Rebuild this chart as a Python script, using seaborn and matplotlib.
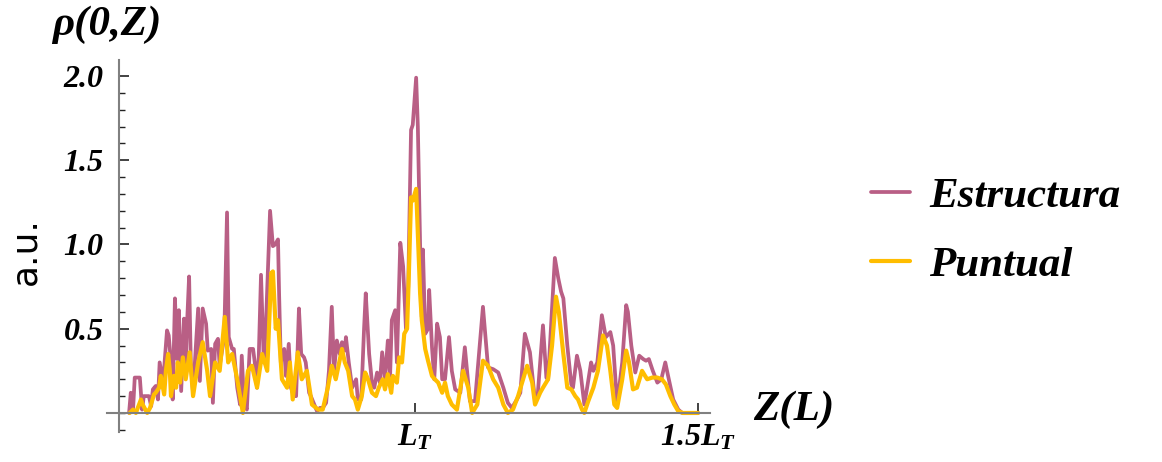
import matplotlib
matplotlib.use("Agg")
import matplotlib.pyplot as plt
import seaborn as sns
import pandas as pd
from matplotlib.ticker import FixedLocator, MultipleLocator

# Datos (Z en unidades de L_T, rho en u.a.)
z_estructura = [
    0.495, 0.498, 0.502, 0.505, 0.514, 0.518, 0.521, 0.530, 0.534, 0.537,
    0.542, 0.546, 0.549, 0.555, 0.562, 0.565, 0.569, 0.572, 0.576, 0.580,
    0.583, 0.587, 0.592, 0.595, 0.597, 0.601, 0.604, 0.608, 0.617, 0.620,
    0.625, 0.631, 0.634, 0.640, 0.643, 0.647, 0.652, 0.655, 0.663, 0.668,
    0.671, 0.677, 0.680, 0.686, 0.691, 0.694, 0.698, 0.703, 0.708, 0.714,
    0.717, 0.721, 0.724, 0.728, 0.733, 0.737, 0.744, 0.749, 0.753, 0.758,
    0.760, 0.763, 0.769, 0.772, 0.777, 0.781, 0.786, 0.790, 0.795, 0.799,
    0.804, 0.807, 0.813, 0.816, 0.822, 0.827, 0.832, 0.837, 0.843, 0.848,
    0.853, 0.857, 0.862, 0.867, 0.871, 0.876, 0.878, 0.883, 0.889, 0.896,
    0.899, 0.905, 0.910, 0.913, 0.919, 0.924, 0.928, 0.933, 0.938, 0.942,
    0.947, 0.952, 0.956, 0.959, 0.965, 0.968, 0.974, 0.979, 0.984, 0.988,
    0.993, 0.996, 1.002, 1.005, 1.009, 1.012, 1.014, 1.018, 1.023, 1.025,
    1.030, 1.034, 1.039, 1.044, 1.048, 1.053, 1.060, 1.065, 1.071, 1.080,
    1.088, 1.097, 1.106, 1.120, 1.129, 1.138, 1.147, 1.156, 1.164, 1.171,
    1.180, 1.186, 1.194, 1.203, 1.212, 1.217, 1.226, 1.232, 1.235, 1.247,
    1.253, 1.258, 1.262, 1.269, 1.276, 1.279, 1.286, 1.292, 1.299, 1.304,
    1.311, 1.315, 1.322, 1.330, 1.337, 1.345, 1.350, 1.357, 1.366, 1.373,
    1.376, 1.382, 1.389, 1.396, 1.403, 1.408, 1.413, 1.420, 1.428, 1.435,
    1.442, 1.447, 1.456, 1.465, 1.472, 1.500,
]
rho_estructura = [
    0.00, 0.12, 0.02, 0.21, 0.21, 0.02, 0.10, 0.10, 0.04, 0.14,
    0.16, 0.08, 0.30, 0.18, 0.49, 0.46, 0.30, 0.08, 0.68, 0.32,
    0.61, 0.13, 0.56, 0.30, 0.50, 0.81, 0.30, 0.12, 0.62, 0.19,
    0.62, 0.53, 0.37, 0.38, 0.06, 0.41, 0.44, 0.28, 0.45, 1.19,
    0.45, 0.38, 0.38, 0.15, 0.05, 0.34, 0.06, 0.02, 0.38, 0.38,
    0.30, 0.15, 0.33, 0.82, 0.30, 0.55, 1.20, 0.99, 1.00, 1.03,
    0.70, 0.30, 0.38, 0.22, 0.41, 0.15, 0.10, 0.10, 0.62, 0.35,
    0.33, 0.30, 0.12, 0.10, 0.05, 0.01, 0.03, 0.03, 0.06, 0.25,
    0.63, 0.25, 0.43, 0.35, 0.42, 0.37, 0.45, 0.30, 0.15, 0.20,
    0.08, 0.08, 0.50, 0.71, 0.35, 0.18, 0.15, 0.24, 0.18, 0.36,
    0.20, 0.43, 0.22, 0.55, 0.61, 0.30, 1.01, 0.87, 0.50, 0.75,
    1.68, 1.71, 1.99, 1.70, 1.00, 0.57, 0.97, 0.47, 0.50, 0.73,
    0.39, 0.20, 0.53, 0.45, 0.20, 0.20, 0.45, 0.25, 0.14, 0.12,
    0.39, 0.07, 0.07, 0.63, 0.27, 0.26, 0.24, 0.15, 0.06, 0.03,
    0.08, 0.12, 0.47, 0.36, 0.07, 0.12, 0.52, 0.21, 0.20, 0.92,
    0.80, 0.72, 0.68, 0.40, 0.17, 0.15, 0.34, 0.25, 0.05, 0.15,
    0.30, 0.25, 0.30, 0.58, 0.45, 0.48, 0.40, 0.05, 0.30, 0.64,
    0.60, 0.40, 0.24, 0.34, 0.32, 0.31, 0.32, 0.25, 0.18, 0.20,
    0.30, 0.22, 0.08, 0.02, 0.00, 0.00,
]

z_puntual = [
    0.496, 0.502, 0.507, 0.516, 0.519, 0.527, 0.532, 0.539, 0.542, 0.548,
    0.551, 0.557, 0.560, 0.564, 0.567, 0.569, 0.574, 0.578, 0.581, 0.585,
    0.590, 0.595, 0.602, 0.608, 0.617, 0.625, 0.633, 0.638, 0.647, 0.655,
    0.664, 0.670, 0.677, 0.686, 0.696, 0.705, 0.712, 0.721, 0.730, 0.739,
    0.746, 0.749, 0.754, 0.758, 0.765, 0.774, 0.779, 0.784, 0.793, 0.800,
    0.809, 0.818, 0.829, 0.837, 0.846, 0.853, 0.860, 0.866, 0.871, 0.876,
    0.882, 0.889, 0.894, 0.899, 0.906, 0.912, 0.917, 0.924, 0.931, 0.936,
    0.943, 0.947, 0.952, 0.958, 0.961, 0.968, 0.972, 0.977, 0.981, 0.986,
    0.989, 0.993, 0.996, 1.002, 1.005, 1.009, 1.012, 1.018, 1.023, 1.030,
    1.035, 1.041, 1.048, 1.053, 1.058, 1.065, 1.071, 1.074, 1.085, 1.094,
    1.101, 1.110, 1.120, 1.129, 1.138, 1.147, 1.156, 1.164, 1.173, 1.182,
    1.191, 1.198, 1.207, 1.212, 1.221, 1.226, 1.235, 1.242, 1.249, 1.254,
    1.262, 1.269, 1.276, 1.283, 1.288, 1.295, 1.299, 1.306, 1.315, 1.323,
    1.332, 1.339, 1.345, 1.352, 1.357, 1.366, 1.373, 1.378, 1.385, 1.392,
    1.401, 1.410, 1.419, 1.428, 1.436, 1.443, 1.451, 1.458, 1.465, 1.473,
    1.500,
]
rho_puntual = [
    0.00, 0.02, 0.00, 0.08, 0.05, 0.00, 0.03, 0.11, 0.12, 0.15,
    0.22, 0.11, 0.25, 0.35, 0.25, 0.10, 0.22, 0.15, 0.30, 0.18,
    0.33, 0.20, 0.36, 0.10, 0.30, 0.42, 0.25, 0.10, 0.30, 0.25,
    0.57, 0.30, 0.35, 0.20, 0.00, 0.25, 0.28, 0.15, 0.35, 0.25,
    0.83, 0.84, 0.50, 0.55, 0.20, 0.15, 0.30, 0.08, 0.36, 0.20,
    0.25, 0.05, 0.02, 0.02, 0.15, 0.28, 0.20, 0.30, 0.38, 0.30,
    0.25, 0.10, 0.08, 0.02, 0.10, 0.24, 0.20, 0.12, 0.10, 0.15,
    0.20, 0.14, 0.23, 0.12, 0.22, 0.18, 0.33, 0.30, 0.47, 0.50,
    0.81, 1.28, 1.26, 1.33, 1.07, 0.71, 0.55, 0.38, 0.31, 0.22,
    0.20, 0.18, 0.12, 0.18, 0.10, 0.05, 0.03, 0.02, 0.25, 0.15,
    0.00, 0.05, 0.31, 0.28, 0.20, 0.15, 0.05, 0.00, 0.02, 0.10,
    0.20, 0.28, 0.18, 0.05, 0.12, 0.15, 0.20, 0.40, 0.69, 0.60,
    0.35, 0.15, 0.14, 0.10, 0.08, 0.02, 0.00, 0.07, 0.15, 0.25,
    0.46, 0.40, 0.25, 0.05, 0.03, 0.20, 0.37, 0.30, 0.14, 0.15,
    0.25, 0.20, 0.21, 0.21, 0.20, 0.17, 0.10, 0.05, 0.01, 0.00,
    0.00,
]

series = ["Estructura", "Puntual"]
colores = {"Estructura": "#B95F85", "Puntual": "#FFBD00"}
x_ticks = [1.0, 1.5]
x_tick_labels = ["$L_T$", "1.5$L_T$"]
y_ticks = [0.5, 1.0, 1.5, 2.0]

df_e = pd.DataFrame({"Z": z_estructura, "rho": rho_estructura, "serie": series[0]})
df_p = pd.DataFrame({"Z": z_puntual, "rho": rho_puntual, "serie": series[1]})

# Estilo
sns.set_style("white")
plt.rcParams["font.family"] = ["Liberation Serif", "DejaVu Serif"]
plt.rcParams["text.color"] = "black"
plt.rcParams["mathtext.fontset"] = "custom"
plt.rcParams["mathtext.it"] = "Liberation Serif:bold:italic"
plt.rcParams["mathtext.rm"] = "Liberation Serif:bold:italic"
plt.rcParams["mathtext.bf"] = "Liberation Serif:bold:italic"

fig = plt.figure(figsize=(11.62, 4.62), dpi=100)
ax = fig.add_axes([107 / 1162, 30 / 462, 603 / 1162, 372 / 462])

sns.lineplot(data=df_e, x="Z", y="rho", color=colores["Estructura"], linewidth=2.7,
             sort=False, estimator=None, label="Estructura", ax=ax)
sns.lineplot(data=df_p, x="Z", y="rho", color=colores["Puntual"], linewidth=3.0,
             sort=False, estimator=None, label="Puntual", ax=ax)

ax.set_xlim(0.456, 1.521)
ax.set_ylim(-0.113, 2.095)

# Ejes estilo Mathematica
for s in ["top", "right"]:
    ax.spines[s].set_visible(False)
ax.spines["left"].set_position(("data", 0.477))
ax.spines["bottom"].set_position(("data", 0))
for s in ["left", "bottom"]:
    ax.spines[s].set_color("#808080")
    ax.spines[s].set_linewidth(1.5)

ax.set_xticks(x_ticks)
ax.set_xticklabels(x_tick_labels)
ax.xaxis.set_minor_locator(FixedLocator([0.5]))
ax.set_yticks(y_ticks)
ax.set_yticklabels([f"{v:.1f}" for v in y_ticks])
ax.yaxis.set_minor_locator(MultipleLocator(0.1))

ax.tick_params(axis="both", which="both", bottom=True, left=True, top=False, right=False,
               direction="in", color="#222222", labelcolor="black")
ax.tick_params(axis="both", which="major", length=7, width=1.2, labelsize=23)
ax.tick_params(axis="both", which="minor", length=4.5, width=1.0)
ax.tick_params(axis="y", which="major", pad=11)
ax.tick_params(axis="x", which="major", pad=7)
for lab in ax.get_xticklabels() + ax.get_yticklabels():
    lab.set_fontweight("bold")
    lab.set_fontstyle("italic")

ax.set_xlabel("")
ax.set_ylabel("")

# Titulos
fig.text(52 / 1162, 1 - 25 / 462, "ρ(0,Z)", fontsize=31, fontweight="bold",
         fontstyle="italic", ha="left", va="center")
fig.text(753 / 1162, 1 - 410 / 462, "Z(L)", fontsize=31, fontweight="bold",
         fontstyle="italic", ha="left", va="center")
fig.text(25 / 1162, 1 - 251 / 462, "a.u.", fontsize=26, family="DejaVu Sans",
         rotation=90, ha="center", va="center")

# Leyenda
handles = ax.get_lines()[:2]
ax.legend(handles, series, loc="center left",
          bbox_to_anchor=(871 / 1162, 1 - 231 / 462), bbox_transform=fig.transFigure,
          frameon=False, borderpad=0, borderaxespad=0, handlelength=0.9,
          handletextpad=0.45, labelspacing=0.68,
          prop={"family": "Liberation Serif", "weight": "bold", "style": "italic",
                "size": 31})

fig.savefig("out.png", dpi=100)
